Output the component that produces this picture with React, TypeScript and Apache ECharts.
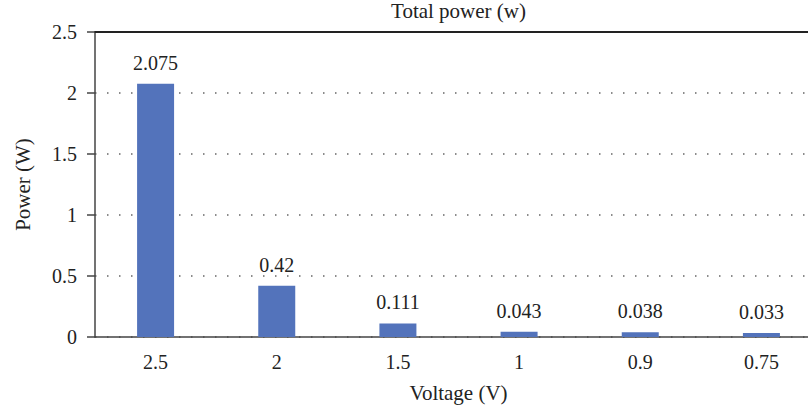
import React, { useEffect, useRef } from "react";
import * as echarts from "echarts";

const categories = ["2.5", "2", "1.5", "1", "0.9", "0.75"];
const powerValues = [2.075, 0.42, 0.111, 0.043, 0.038, 0.033];
const titleText = "Total power (w)";
const xName = "Voltage (V)";
const yName = "Power (W)";

const FONT = "'Liberation Serif', 'Times New Roman', serif";

export default function App() {
  const ref = useRef<HTMLDivElement>(null);
  useEffect(() => {
    if (!ref.current) return;
    const chart = echarts.init(ref.current, undefined, { renderer: "svg" });
    const gridLeft = 95;
    const gridWidth = 727;
    chart.setOption({
      animation: false,
      backgroundColor: "#ffffff",
      title: {
        text: titleText,
        left: gridLeft + gridWidth / 2,
        textAlign: "center",
        top: 0,
        padding: 0,
        textStyle: { fontFamily: FONT, fontSize: 21, fontWeight: "normal", color: "#222" },
      },
      grid: { left: gridLeft, top: 32, bottom: 76, width: gridWidth, containLabel: false },
      xAxis: [
        {
          type: "category",
          data: categories,
          position: "bottom",
          name: xName,
          nameLocation: "middle",
          nameGap: 45,
          nameTextStyle: { fontFamily: FONT, fontSize: 21, color: "#222" },
          axisLine: { lineStyle: { color: "#444", width: 1.5 } },
          axisTick: { alignWithLabel: true, length: 8, lineStyle: { color: "#444", width: 1.5 } },
          axisLabel: { fontFamily: FONT, fontSize: 20, color: "#222", margin: 15 },
        },
        {
          type: "category",
          data: categories,
          position: "top",
          axisLine: { show: true, lineStyle: { color: "#222", width: 2 } },
          axisTick: { show: false },
          axisLabel: { show: false },
        },
      ],
      yAxis: {
        type: "value",
        min: 0,
        max: 2.5,
        interval: 0.5,
        name: yName,
        nameLocation: "middle",
        nameGap: 62,
        nameTextStyle: { fontFamily: FONT, fontSize: 21, color: "#222" },
        axisLine: { show: true, lineStyle: { color: "#444", width: 1.5 } },
        axisTick: { show: true, length: 8, lineStyle: { color: "#444", width: 1.5 } },
        axisLabel: { fontFamily: FONT, fontSize: 20, color: "#222", margin: 18 },
        splitLine: { show: true, lineStyle: { color: "#666", width: 1.5, type: [1.5, 10.5] } },
      },
      series: [
        {
          type: "bar",
          xAxisIndex: 0,
          data: powerValues,
          barWidth: 37,
          itemStyle: { color: "#5373bb" },
          label: {
            show: true,
            position: "top",
            distance: 11,
            fontFamily: FONT,
            fontSize: 20,
            color: "#222",
          },
        },
      ],
    });
    return () => chart.dispose();
  }, []);
  return (
    <div
      ref={ref}
      style={{ position: "fixed", left: 0, top: 0, width: 830, height: 413 }}
    />
  );
}
